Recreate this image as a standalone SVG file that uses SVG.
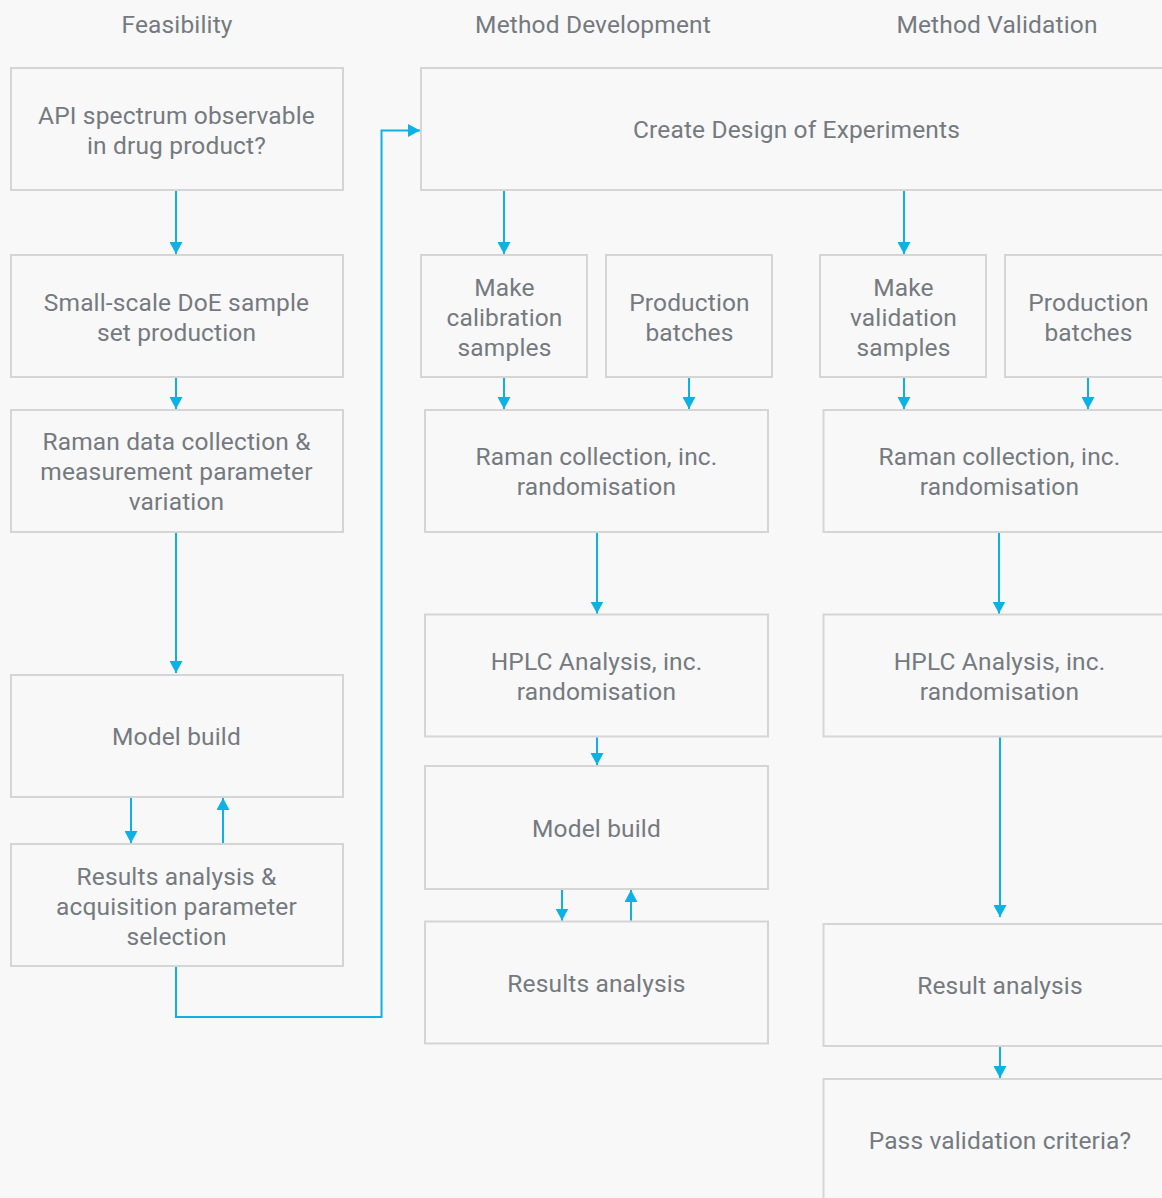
<svg xmlns="http://www.w3.org/2000/svg" width="1162" height="1198" viewBox="0 0 1162 1198">
  <defs>
    <marker id="arrow" viewBox="0 0 12 13" refX="12" refY="6.5" markerWidth="12" markerHeight="13" markerUnits="userSpaceOnUse" orient="auto">
      <path d="M0,0 L12,6.5 L0,13 z" fill="#0cb1e6"/>
    </marker>
  </defs>
  <style>
    .bg { fill: #f8f8f8; }
    .box { fill: #f8f8f8; stroke: #d5d5d5; stroke-width: 2; }
    .lbl { font-family: Roboto, "Liberation Sans", sans-serif; font-size: 24.5px; letter-spacing: 0.15px; fill: #757a80; text-anchor: middle; }
    .hdr { font-family: Roboto, "Liberation Sans", sans-serif; font-size: 24.5px; letter-spacing: 0.15px; fill: #757a80; text-anchor: middle; }
    .link { fill: none; stroke: #0cb1e6; stroke-width: 2; marker-end: url(#arrow); }
  </style>

  <rect class="bg" x="0" y="0" width="1162" height="1198"/>

  <!-- column headings -->
  <g id="headings">
    <text class="hdr" x="177" y="33">Feasibility</text>
    <text class="hdr" x="593" y="33">Method Development</text>
    <text class="hdr" x="997" y="33">Method Validation</text>
  </g>

  <!-- Feasibility column -->
  <g id="api-spectrum">
    <rect class="box" x="11" y="68" width="332" height="122"/>
    <text class="lbl" x="176.5" y="123.5">API spectrum observable</text>
    <text class="lbl" x="176.5" y="153.5">in drug product?</text>
  </g>
  <g id="small-scale-doe">
    <rect class="box" x="11" y="255" width="332" height="122"/>
    <text class="lbl" x="176.5" y="310.5">Small-scale DoE sample</text>
    <text class="lbl" x="176.5" y="340.5">set production</text>
  </g>
  <g id="raman-data-collection">
    <rect class="box" x="11" y="410" width="332" height="122"/>
    <text class="lbl" x="176.5" y="450">Raman data collection &amp;</text>
    <text class="lbl" x="176.5" y="480">measurement parameter</text>
    <text class="lbl" x="176.5" y="510">variation</text>
  </g>
  <g id="feasibility-model-build">
    <rect class="box" x="11" y="675" width="332" height="122"/>
    <text class="lbl" x="176.5" y="744.5">Model build</text>
  </g>
  <g id="feasibility-results">
    <rect class="box" x="11" y="844" width="332" height="122"/>
    <text class="lbl" x="176.5" y="884.5">Results analysis &amp;</text>
    <text class="lbl" x="176.5" y="914.5">acquisition parameter</text>
    <text class="lbl" x="176.5" y="944.5">selection</text>
  </g>

  <!-- Method Development column -->
  <g id="create-doe">
    <rect class="box" x="421" y="68" width="760" height="122"/>
    <text class="lbl" x="796.5" y="138">Create Design of Experiments</text>
  </g>
  <g id="make-calibration">
    <rect class="box" x="421" y="255" width="166" height="122"/>
    <text class="lbl" x="504.5" y="295.5">Make</text>
    <text class="lbl" x="504.5" y="325.5">calibration</text>
    <text class="lbl" x="504.5" y="355.5">samples</text>
  </g>
  <g id="dev-production-batches">
    <rect class="box" x="606" y="255" width="166" height="122"/>
    <text class="lbl" x="689.5" y="310.5">Production</text>
    <text class="lbl" x="689.5" y="340.5">batches</text>
  </g>
  <g id="dev-raman-collection">
    <rect class="box" x="425" y="410" width="343" height="122"/>
    <text class="lbl" x="596.5" y="465">Raman collection, inc.</text>
    <text class="lbl" x="596.5" y="495">randomisation</text>
  </g>
  <g id="dev-hplc">
    <rect class="box" x="425" y="614.5" width="343" height="122"/>
    <text class="lbl" x="596.5" y="669.5">HPLC Analysis, inc.</text>
    <text class="lbl" x="596.5" y="699.5">randomisation</text>
  </g>
  <g id="dev-model-build">
    <rect class="box" x="425" y="766" width="343" height="123"/>
    <text class="lbl" x="596.5" y="836.5">Model build</text>
  </g>
  <g id="dev-results">
    <rect class="box" x="425" y="921.5" width="343" height="122"/>
    <text class="lbl" x="596.5" y="991.5">Results analysis</text>
  </g>

  <!-- Method Validation column -->
  <g id="make-validation">
    <rect class="box" x="820" y="255" width="166" height="122"/>
    <text class="lbl" x="903.5" y="295.5">Make</text>
    <text class="lbl" x="903.5" y="325.5">validation</text>
    <text class="lbl" x="903.5" y="355.5">samples</text>
  </g>
  <g id="val-production-batches">
    <rect class="box" x="1005" y="255" width="166" height="122"/>
    <text class="lbl" x="1088.5" y="310.5">Production</text>
    <text class="lbl" x="1088.5" y="340.5">batches</text>
  </g>
  <g id="val-raman-collection">
    <rect class="box" x="823.5" y="410" width="351" height="122"/>
    <text class="lbl" x="999.5" y="465">Raman collection, inc.</text>
    <text class="lbl" x="999.5" y="495">randomisation</text>
  </g>
  <g id="val-hplc">
    <rect class="box" x="823.5" y="614.5" width="351" height="122"/>
    <text class="lbl" x="999.5" y="669.5">HPLC Analysis, inc.</text>
    <text class="lbl" x="999.5" y="699.5">randomisation</text>
  </g>
  <g id="val-result-analysis">
    <rect class="box" x="823.5" y="924" width="351" height="122"/>
    <text class="lbl" x="1000" y="994">Result analysis</text>
  </g>
  <g id="pass-criteria">
    <rect class="box" x="823.5" y="1079" width="351" height="160"/>
    <text class="lbl" x="1000" y="1148.5">Pass validation criteria?</text>
  </g>

  <!-- connectors -->
  <g id="connectors">
    <line class="link" x1="176" y1="191" x2="176" y2="254"/>
    <line class="link" x1="176" y1="378" x2="176" y2="409"/>
    <line class="link" x1="176" y1="533" x2="176" y2="673"/>
    <line class="link" x1="131" y1="798" x2="131" y2="843"/>
    <line class="link" x1="223" y1="843" x2="223" y2="798"/>
    <polyline class="link" points="176,967 176,1017 381.5,1017 381.5,130.5 420,130.5"/>

    <line class="link" x1="504" y1="191" x2="504" y2="254"/>
    <line class="link" x1="504" y1="378" x2="504" y2="409"/>
    <line class="link" x1="689" y1="378" x2="689" y2="409"/>
    <line class="link" x1="597" y1="533" x2="597" y2="613.5"/>
    <line class="link" x1="597" y1="737.5" x2="597" y2="765"/>
    <line class="link" x1="562" y1="890" x2="562" y2="920.5"/>
    <line class="link" x1="631" y1="920.5" x2="631" y2="890"/>

    <line class="link" x1="904" y1="191" x2="904" y2="254"/>
    <line class="link" x1="904" y1="378" x2="904" y2="409"/>
    <line class="link" x1="1088" y1="378" x2="1088" y2="409"/>
    <line class="link" x1="999" y1="533" x2="999" y2="613.5"/>
    <line class="link" x1="1000" y1="737.5" x2="1000" y2="917"/>
    <line class="link" x1="1000" y1="1047" x2="1000" y2="1078"/>
  </g>
</svg>
